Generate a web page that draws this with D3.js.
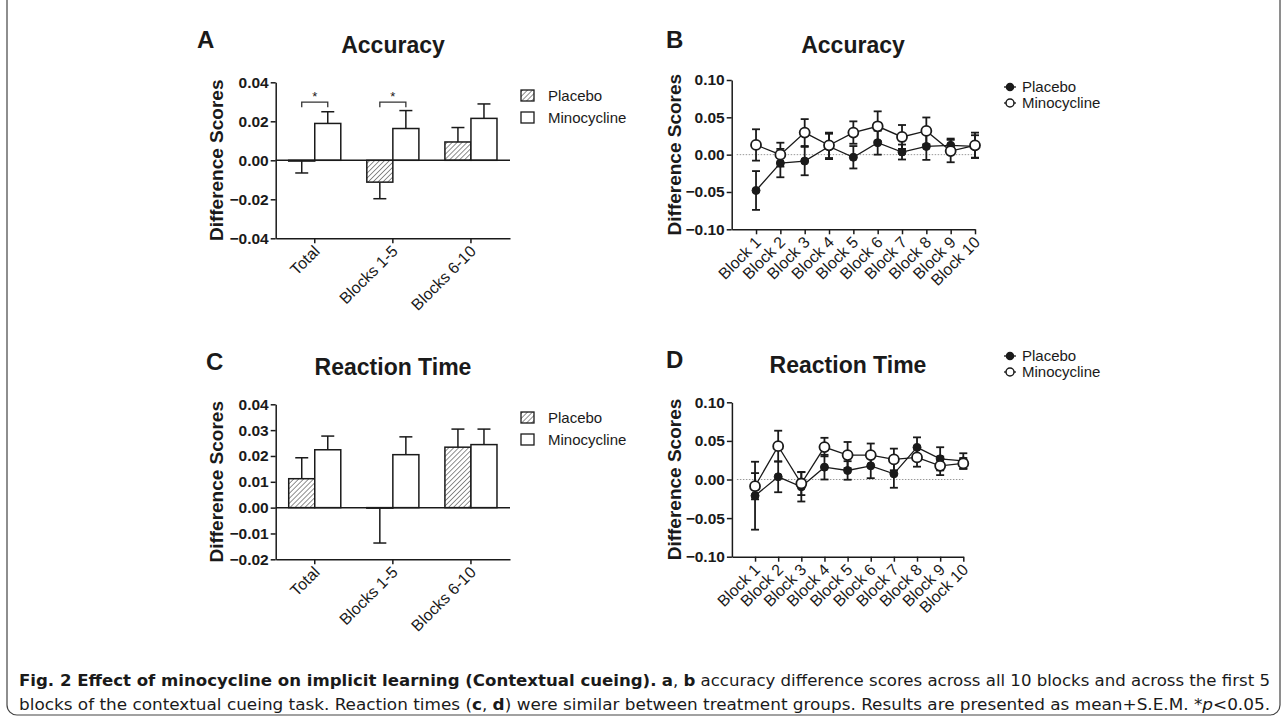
<!doctype html>
<html>
  <head>
    <meta charset="utf-8">
    <style>
      body { margin: 0; background: #fff; }
      svg text { font-family: 'Liberation Sans', Arial, sans-serif; fill: #1a1a1a; }
    </style>
  </head>
  <body>
    <svg id='fig'></svg>

    <script src='https://d3js.org/d3.v7.min.js'></script>
    <script>
      // bar panels (A, C): group means and one-sided SEM
      const bar_groups = ['Total', 'Blocks 1-5', 'Blocks 6-10'];
      const acc_placebo = [-0.0004, -0.0112, 0.0094];
      const acc_placebo_sem = [0.0061, 0.0085, 0.0074];
      const acc_mino = [0.0189, 0.0163, 0.0215];
      const acc_mino_sem = [0.0060, 0.0092, 0.0074];
      const rt_placebo = [0.0112, -0.0002, 0.0234];
      const rt_placebo_sem = [0.0081, 0.0135, 0.0070];
      const rt_mino = [0.0224, 0.0205, 0.0244];
      const rt_mino_sem = [0.0053, 0.0069, 0.0060];

      // line panels (B, D): per block mean and SEM
      const blocks = ['Block 1', 'Block 2', 'Block 3', 'Block 4', 'Block 5',
                      'Block 6', 'Block 7', 'Block 8', 'Block 9', 'Block 10'];
      const blk_acc_placebo = [-0.048, -0.0113, -0.0086, 0.011, -0.0035, 0.016, 0.0035, 0.011, 0.0125, 0.011];
      const blk_acc_placebo_sem = [0.026, 0.019, 0.019, 0.017, 0.015, 0.016, 0.010, 0.018, 0.009, 0.015];
      const blk_acc_mino = [0.013, 0.000, 0.0296, 0.0125, 0.0296, 0.038, 0.0237, 0.0318, 0.0048, 0.0125];
      const blk_acc_mino_sem = [0.021, 0.016, 0.018, 0.017, 0.015, 0.020, 0.016, 0.018, 0.015, 0.017];
      const blk_rt_placebo = [-0.021, 0.0035, -0.0095, 0.016, 0.0117, 0.0177, 0.0073, 0.0416, 0.0268, 0.024];
      const blk_rt_placebo_sem = [0.044, 0.020, 0.019, 0.016, 0.012, 0.016, 0.018, 0.013, 0.015, 0.010];
      const blk_rt_mino = [-0.0087, 0.0432, -0.0052, 0.042, 0.0316, 0.0316, 0.026, 0.0286, 0.0177, 0.0208];
      const blk_rt_mino_sem = [0.017, 0.020, 0.015, 0.012, 0.017, 0.015, 0.014, 0.012, 0.012, 0.007];

      const width = 1287;
      const height = 723;
      const ink = '#1a1a1a';

      const svg = d3.select('svg#fig')
                    .attr('width', width)
                    .attr('height', height);

      const defs = svg.append('defs');
      const hatch = defs.append('pattern')
                        .attr('id', 'hatch')
                        .attr('patternUnits', 'userSpaceOnUse')
                        .attr('width', 3.5)
                        .attr('height', 3.5)
                        .attr('patternTransform', 'rotate(45)');
      hatch.append('rect').attr('width', 3.5).attr('height', 3.5).attr('fill', '#fff');
      hatch.append('line')
           .attr('x1', 0).attr('y1', 0).attr('x2', 0).attr('y2', 3.5)
           .attr('stroke', '#555').attr('stroke-width', 1.3);

      function style_axis(g) {
          g.selectAll('path, line').attr('stroke', ink).attr('stroke-width', 1.5);
          g.selectAll('text').attr('font-size', 15.5).attr('font-weight', 'bold')
           .attr('fill', ink).attr('font-family', "'Liberation Sans', Arial, sans-serif");
      }

      function panel_titles(p) {
          svg.append('text').attr('x', p.letter_x).attr('y', p.title_y - 5)
             .attr('font-size', 24).attr('font-weight', 'bold').text(p.letter);
          svg.append('text').attr('x', p.title_x).attr('y', p.title_y)
             .attr('text-anchor', 'middle').attr('font-size', 23).attr('font-weight', 'bold')
             .text(p.title);
          svg.append('text')
             .attr('transform', `translate(${p.ylab_x},${(p.y.range()[0] + p.y.range()[1]) / 2}) rotate(-90)`)
             .attr('text-anchor', 'middle').attr('dy', '0.35em')
             .attr('font-size', 19).attr('font-weight', 'bold')
             .text('Difference Scores');
      }

      function x_labels(g, positions, labels, y0) {
          g.selectAll('text.xl')
           .data(labels)
           .join('text')
           .attr('class', 'xl')
           .attr('text-anchor', 'end')
           .attr('font-size', 16)
           .attr('transform', (d, i) => `translate(${positions[i] + 6},${y0 + 14}) rotate(-45)`)
           .text(d => d);
      }

      function bar_panel(p) {
          const x = d3.scaleBand().domain(bar_groups).range(p.xr);
          const y = d3.scaleLinear().domain(p.yd).range(p.yr);
          p.y = y;
          const bw = x.bandwidth() / 3;
          const g = svg.append('g');

          const series = [
              {vals: p.placebo, sem: p.placebo_sem, off: -bw, fill: 'url(#hatch)'},
              {vals: p.mino, sem: p.mino_sem, off: 0, fill: '#fff'},
          ];
          for (const s of series) {
              const cx = i => x(bar_groups[i]) + x.bandwidth() / 2 + s.off + bw / 2;
              // one-sided error bar, away from zero
              const tip = i => s.vals[i] + Math.sign(s.vals[i] || 1) * s.sem[i];
              g.append('g').selectAll('line')
               .data(s.vals)
               .join('line')
               .attr('x1', (d, i) => cx(i)).attr('x2', (d, i) => cx(i))
               .attr('y1', d => y(d)).attr('y2', (d, i) => y(tip(i)))
               .attr('stroke', ink).attr('stroke-width', 1.5);
              g.append('g').selectAll('line')
               .data(s.vals)
               .join('line')
               .attr('x1', (d, i) => cx(i) - 6.5).attr('x2', (d, i) => cx(i) + 6.5)
               .attr('y1', (d, i) => y(tip(i))).attr('y2', (d, i) => y(tip(i)))
               .attr('stroke', ink).attr('stroke-width', 1.5);
              g.append('g').selectAll('rect')
               .data(s.vals)
               .join('rect')
               .attr('x', (d, i) => x(bar_groups[i]) + x.bandwidth() / 2 + s.off)
               .attr('y', d => y(Math.max(0, d)))
               .attr('width', bw)
               .attr('height', d => Math.abs(y(d) - y(0)))
               .attr('fill', s.fill)
               .attr('stroke', ink).attr('stroke-width', 1.5);
          }

          // zero line
          g.append('line').attr('x1', p.xr[0]).attr('x2', p.xr[1])
           .attr('y1', y(0)).attr('y2', y(0)).attr('stroke', ink).attr('stroke-width', 1.5);

          g.append('g')
           .attr('transform', `translate(${p.xr[0]},0)`)
           .call(d3.axisLeft(y).tickValues(p.ticks).tickFormat(d3.format('.2f'))
                   .tickSize(5).tickSizeOuter(0).tickPadding(2))
           .call(style_axis);
          g.append('g')
           .attr('transform', `translate(0,${p.yr[0]})`)
           .call(d3.axisBottom(x).tickSize(5).tickSizeOuter(0).tickFormat(''))
           .call(style_axis);
          x_labels(g, bar_groups.map(c => x(c) + x.bandwidth() / 2), bar_groups, p.yr[0]);

          // significance brackets
          for (const i of p.sig) {
              const c = x(bar_groups[i]) + x.bandwidth() / 2;
              const yb = y(p.sig_y);
              g.append('path')
               .attr('d', `M${c - bw / 2},${yb + 5}V${yb}H${c + bw / 2}V${yb + 5}`)
               .attr('fill', 'none').attr('stroke', '#333').attr('stroke-width', 1.3);
              g.append('text').attr('x', c).attr('y', yb - 1)
               .attr('text-anchor', 'middle').attr('font-size', 13).text('*');
          }

          // legend
          const lg = svg.append('g').attr('transform', `translate(${p.leg_x},${p.leg_y})`);
          ['Placebo', 'Minocycline'].forEach((name, i) => {
              lg.append('rect').attr('x', 0).attr('y', i * 22 - 6).attr('width', 13).attr('height', 11)
                .attr('fill', i === 0 ? 'url(#hatch)' : '#fff')
                .attr('stroke', ink).attr('stroke-width', 1.3);
              lg.append('text').attr('x', 27).attr('y', i * 22).attr('dy', '0.35em')
                .attr('font-size', 15).text(name);
          });

          panel_titles(p);
      }

      function line_panel(p) {
          const x = d3.scaleLinear().domain([0, 10]).range(p.xr);
          const y = d3.scaleLinear().domain([-0.1, 0.1]).range(p.yr);
          p.y = y;
          const g = svg.append('g');
          const idx = d3.range(blocks.length);

          g.append('line').attr('x1', p.xr[0] + 5).attr('x2', p.xr[1])
           .attr('y1', y(0)).attr('y2', y(0))
           .attr('stroke', '#999').attr('stroke-width', 1).attr('stroke-dasharray', '1.5,1.5');

          const series = [
              {vals: p.placebo, sem: p.placebo_sem, open: false},
              {vals: p.mino, sem: p.mino_sem, open: true},
          ];
          for (const s of series) {
              const eg = g.append('g').attr('stroke', ink).attr('stroke-width', 1.8);
              eg.selectAll('line.v').data(idx).join('line').attr('class', 'v')
                .attr('x1', i => x(i + 1)).attr('x2', i => x(i + 1))
                .attr('y1', i => y(s.vals[i] - s.sem[i])).attr('y2', i => y(s.vals[i] + s.sem[i]));
              for (const sgn of [-1, 1]) {
                  eg.append('g').selectAll('line').data(idx).join('line')
                    .attr('x1', i => x(i + 1) - 4).attr('x2', i => x(i + 1) + 4)
                    .attr('y1', i => y(s.vals[i] + sgn * s.sem[i]))
                    .attr('y2', i => y(s.vals[i] + sgn * s.sem[i]));
              }
          }
          for (const s of series) {
              g.append('path')
               .datum(idx)
               .attr('d', d3.line().x(i => x(i + 1)).y(i => y(s.vals[i])))
               .attr('fill', 'none').attr('stroke', ink).attr('stroke-width', 1.3);
          }
          for (const s of series) {
              g.append('g').selectAll('circle').data(idx).join('circle')
               .attr('cx', i => x(i + 1)).attr('cy', i => y(s.vals[i]))
               .attr('r', s.open ? 5 : 4)
               .attr('fill', s.open ? '#fff' : ink)
               .attr('stroke', ink).attr('stroke-width', s.open ? 1.8 : 1);
          }

          g.append('g')
           .attr('transform', `translate(${p.xr[0]},0)`)
           .call(d3.axisLeft(y).tickValues([-0.1, -0.05, 0, 0.05, 0.1]).tickFormat(d3.format('.2f'))
                   .tickSize(5).tickSizeOuter(0).tickPadding(2))
           .call(style_axis);
          g.append('g')
           .attr('transform', `translate(0,${p.yr[0]})`)
           .call(d3.axisBottom(x).tickValues(d3.range(1, 11)).tickSize(5).tickSizeOuter(0).tickFormat(''))
           .call(style_axis);
          x_labels(g, idx.map(i => x(i + 1)), blocks, p.yr[0]);

          const lg = svg.append('g').attr('transform', `translate(${p.leg_x},${p.leg_y})`);
          ['Placebo', 'Minocycline'].forEach((name, i) => {
              lg.append('line').attr('x1', -6).attr('x2', 6).attr('y1', i * 16).attr('y2', i * 16)
                .attr('stroke', ink).attr('stroke-width', 1.3);
              lg.append('circle').attr('cx', 0).attr('cy', i * 16).attr('r', i === 0 ? 3.5 : 4)
                .attr('fill', i === 0 ? ink : '#fff').attr('stroke', ink).attr('stroke-width', 1.5);
              lg.append('text').attr('x', 12).attr('y', i * 16).attr('dy', '0.35em')
                .attr('font-size', 15).text(name);
          });

          panel_titles(p);
      }

      bar_panel({
          letter: 'A', letter_x: 197, title: 'Accuracy', title_x: 393, title_y: 53, ylab_x: 216,
          xr: [275.7, 510], yd: [-0.04, 0.04], yr: [238.3, 82.3], ticks: [-0.04, -0.02, 0, 0.02, 0.04],
          placebo: acc_placebo, placebo_sem: acc_placebo_sem, mino: acc_mino, mino_sem: acc_mino_sem,
          sig: [0, 1], sig_y: 0.0298, leg_x: 521, leg_y: 96,
      });
      bar_panel({
          letter: 'C', letter_x: 206, title: 'Reaction Time', title_x: 393, title_y: 375, ylab_x: 216,
          xr: [275.7, 510], yd: [-0.02, 0.04], yr: [559.3, 404.3],
          ticks: [-0.02, -0.01, 0, 0.01, 0.02, 0.03, 0.04],
          placebo: rt_placebo, placebo_sem: rt_placebo_sem, mino: rt_mino, mino_sem: rt_mino_sem,
          sig: [], sig_y: 0, leg_x: 521, leg_y: 418,
      });
      line_panel({
          letter: 'B', letter_x: 666, title: 'Accuracy', title_x: 853, title_y: 53, ylab_x: 674,
          xr: [731.7, 975], yr: [229.3, 80],
          placebo: blk_acc_placebo, placebo_sem: blk_acc_placebo_sem,
          mino: blk_acc_mino, mino_sem: blk_acc_mino_sem, leg_x: 1010, leg_y: 87,
      });
      line_panel({
          letter: 'D', letter_x: 666, title: 'Reaction Time', title_x: 848, title_y: 373, ylab_x: 674,
          xr: [731.9, 963.3], yr: [556.7, 402.3],
          placebo: blk_rt_placebo, placebo_sem: blk_rt_placebo_sem,
          mino: blk_rt_mino, mino_sem: blk_rt_mino_sem, leg_x: 1010, leg_y: 356,
      });

      // frame and caption
      svg.append('rect').attr('x', 7).attr('y', -20).attr('width', 1273).attr('height', 735)
         .attr('rx', 10).attr('fill', 'none').attr('stroke', '#444').attr('stroke-width', 1.2);

      const cap_font = "'Liberation Sans Narrow', 'DejaVu Sans Condensed', 'Liberation Sans', sans-serif";
      const caption = [
          [['Fig. 2 Effect of minocycline on implicit learning (Contextual cueing).', 'b'], [' ', ''],
           ['a', 'b'], [', ', ''], ['b', 'b'],
           [' accuracy difference scores across all 10 blocks and across the first 5', '']],
          [['blocks of the contextual cueing task. Reaction times (', ''], ['c', 'b'], [', ', ''], ['d', 'b'],
           [') were similar between treatment groups. Results are presented as mean+S.E.M. *', ''],
           ['p', 'i'], ['<0.05.', '']],
      ];
      caption.forEach((parts, li) => {
          const t = svg.append('text')
                       .attr('x', 19).attr('y', 686 + li * 24)
                       .attr('font-size', 16).attr('font-family', cap_font)
                       .attr('textLength', 1251).attr('lengthAdjust', 'spacingAndGlyphs')
                       .style('white-space', 'pre');
          for (const [s, f] of parts) {
              t.append('tspan')
               .attr('font-family', cap_font)
               .attr('font-weight', f === 'b' ? 'bold' : 'normal')
               .attr('font-style', f === 'i' ? 'italic' : 'normal')
               .text(s);
          }
      });
    </script>
  </body>
</html>
